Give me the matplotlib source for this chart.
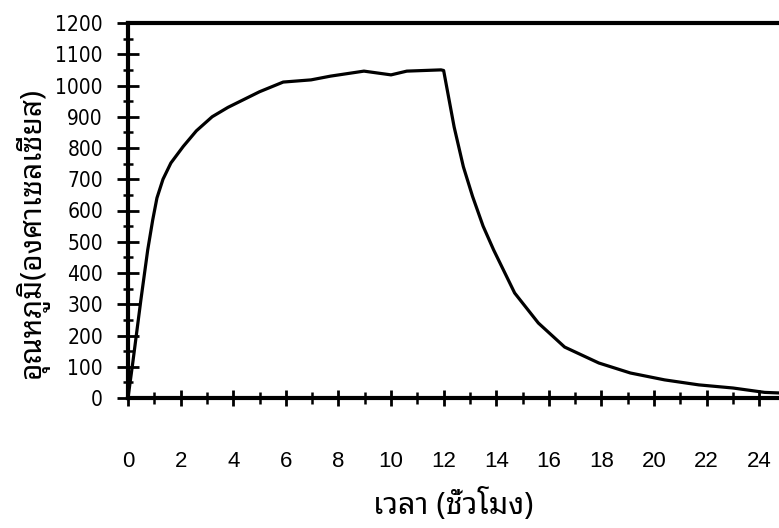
import matplotlib
matplotlib.use("Agg")
import matplotlib.pyplot as plt
from matplotlib.ticker import MultipleLocator

time_h = [0, 0.18, 0.49, 0.75, 0.94, 1.1, 1.33, 1.63, 2.1, 2.6, 3.2, 3.8, 4.4, 5.0,
          5.9, 6.96, 7.7, 8.97, 10.0, 10.6, 11.9, 12.0, 12.4, 12.75, 13.1, 13.5,
          13.9, 14.7, 15.6, 16.6, 17.9, 19.1, 20.4, 21.7, 23.0, 24.2, 24.8]
temp_c = [0, 112, 314, 474, 570, 640, 700, 752, 805, 855, 900, 930, 955, 980,
          1011, 1018, 1030, 1046, 1034, 1046, 1050, 1048, 867, 740, 645, 550,
          474, 336, 240, 163, 112, 80, 58, 42, 32, 18, 16]
x_ticks = list(range(0, 25, 2))
y_ticks = list(range(0, 1201, 100))
x_label = "เวลา (ชั่วโมง)"
y_label = "อุณหภูมิ(องศาเซลเซียส)"

thai = ["Noto Sans Thai Looped", "DejaVu Sans"]

fig = plt.figure(figsize=(7.79, 5.28), dpi=100)
ax = fig.add_axes([128/779, 1-398/528, 1-128/779, (398-23)/528])
ax.plot(time_h, temp_c, color="black", lw=2.3, solid_joinstyle="round")
ax.set_xlim(0, 24.75)
ax.set_ylim(0, 1200)

ax.set_xticks(x_ticks)
ax.set_xticklabels([str(v) for v in x_ticks], family=["Liberation Sans", "DejaVu Sans"],
                   fontsize=16)
ax.set_yticks(y_ticks)
ax.set_yticklabels([str(v) for v in y_ticks], family="DejaVu Sans",
                   fontsize=15, fontstretch="condensed")
ax.xaxis.set_minor_locator(MultipleLocator(1))
ax.yaxis.set_minor_locator(MultipleLocator(50))
ax.tick_params(axis="x", which="major", direction="inout", length=12, width=2, pad=32)
ax.tick_params(axis="x", which="minor", direction="inout", length=8, width=1.8)
ax.tick_params(axis="y", which="major", direction="inout", length=16, width=2, pad=10)
ax.tick_params(axis="y", which="minor", direction="inout", length=7, width=1.8)

for s in ["left", "bottom", "top"]:
    ax.spines[s].set_linewidth(3)
ax.spines["right"].set_visible(False)

ax.set_xlabel(x_label, family=thai, fontsize=22, labelpad=12)
ax.set_ylabel(y_label, family=thai, fontsize=21.5)
ax.yaxis.set_label_coords(-0.122, 0.44)

fig.savefig("out.png", dpi=100)
